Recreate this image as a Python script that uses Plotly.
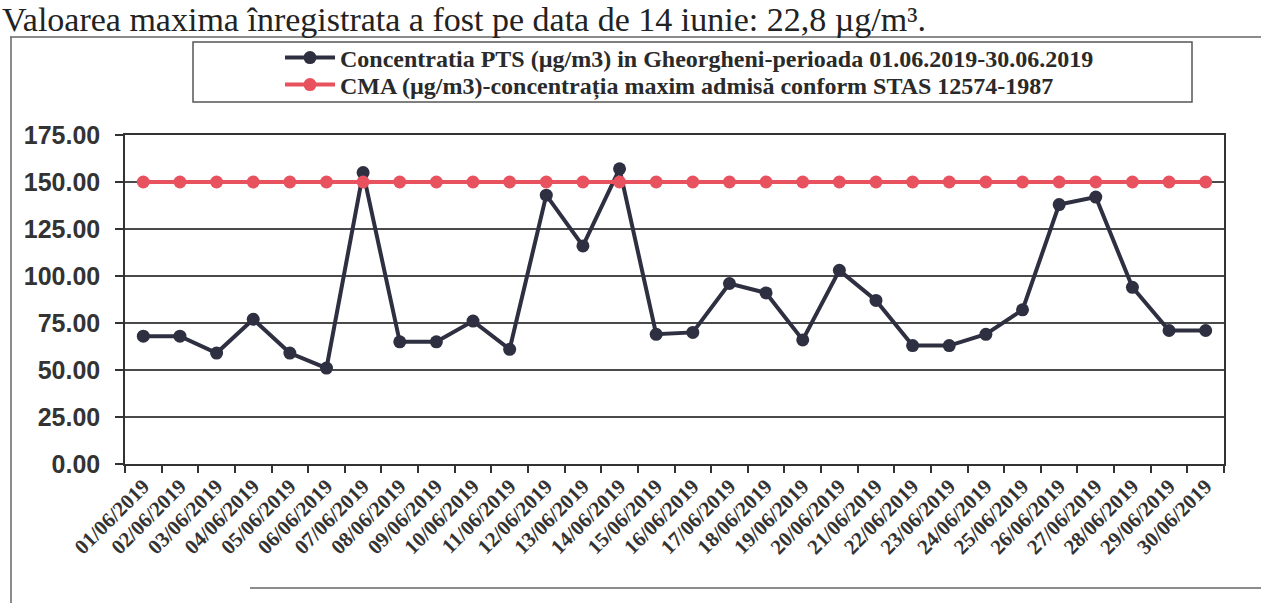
import plotly.graph_objects as go

# ---- data ----
dates = [f"{d:02d}/06/2019" for d in range(1, 31)]
pts_values = [68, 68, 59, 77, 59, 51, 155, 65, 65, 76, 61, 143, 116, 157, 69,
              70, 96, 91, 66, 103, 87, 63, 63, 69, 82, 138, 142, 94, 71, 71]
cma_values = [150] * 30
y_ticks = [0, 25, 50, 75, 100, 125, 150, 175]
name_pts = "Concentratia PTS (µg/m3) in Gheorgheni-perioada 01.06.2019-30.06.2019"
name_cma = "CMA (µg/m3)-concentrația maxim admisă conform STAS 12574-1987"
top_text = "Valoarea maxima înregistrata a fost pe data de 14 iunie: 22,8 µg/m³."

# ---- layout geometry (pixels) ----
W, H = 1261, 603
L, R, T, B = 125, 37, 135, 139
PW = W - L - R
PH = H - T - B


def px(x):
    return (x - L) / PW


def py(y):
    return (H - B - y) / PH


fig = go.Figure()
fig.add_trace(go.Scatter(
    x=dates, y=pts_values, name=name_pts, mode="lines+markers",
    line=dict(color="#2e3042", width=4),
    marker=dict(color="#2e3042", size=13, symbol="circle"),
    legend="legend",
))
fig.add_trace(go.Scatter(
    x=dates, y=cma_values, name=name_cma, mode="lines+markers",
    line=dict(color="#e8525f", width=4),
    marker=dict(color="#e8525f", size=13, symbol="circle"),
    legend="legend2",
))

shapes = [
    # legend box
    dict(type="rect", xref="paper", yref="paper",
         x0=px(193), x1=px(1192), y0=py(102), y1=py(42),
         line=dict(color="#555", width=1.5), fillcolor="rgba(0,0,0,0)", layer="below"),
    # outer frame lines (scan page)
    dict(type="line", xref="paper", yref="paper", x0=px(10), x1=px(1261), y0=py(37), y1=py(37),
         line=dict(color="#666", width=1.5)),
    dict(type="line", xref="paper", yref="paper", x0=px(11), x1=px(11), y0=py(37), y1=py(603),
         line=dict(color="#666", width=1.5)),
    dict(type="line", xref="paper", yref="paper", x0=px(250), x1=px(1261), y0=py(588), y1=py(588),
         line=dict(color="#666", width=1.5)),
]

legend_font = dict(family="Liberation Serif", size=24, color="#2a2a2a", weight="bold")
legend_common = dict(xanchor="left", yanchor="middle", font=legend_font,
                     bgcolor="rgba(0,0,0,0)", borderwidth=0, itemwidth=50)

fig.update_layout(
    width=W, height=H,
    margin=dict(l=L, r=R, t=T, b=B, autoexpand=False),
    paper_bgcolor="white", plot_bgcolor="white",
    showlegend=True,
    legend=dict(x=px(280), y=py(58), **legend_common),
    legend2=dict(x=px(280), y=py(85), **legend_common),
    shapes=shapes,
    annotations=[dict(
        text=top_text, xref="paper", yref="paper", x=px(0), y=py(-1),
        xanchor="left", yanchor="top", showarrow=False,
        font=dict(family="Liberation Serif", size=34, color="#222"),
    )],
    xaxis=dict(
        type="category", range=[-0.5, 29.5], automargin=False,
        tickangle=-45, tickson="boundaries", ticks="outside", ticklen=7,
        tickcolor="#333", tickwidth=1.5,
        tickfont=dict(family="Liberation Serif", size=21, color="#333", weight="bold"),
        showline=True, linecolor="#333", linewidth=1.5, mirror=True,
        showgrid=False,
    ),
    yaxis=dict(
        range=[0, 175], tickvals=y_ticks, automargin=False,
        ticktext=[f"{v:.2f}" for v in y_ticks],
        ticks="outside", ticklen=8, tickcolor="#333", tickwidth=1.5,
        ticklabelstandoff=10,
        tickfont=dict(family="Liberation Sans", size=25, color="#333", weight="bold"),
        showline=True, linecolor="#333", linewidth=1.5, mirror=True,
        showgrid=True, gridcolor="#4a4a4a", gridwidth=1.5,
        zeroline=False,
    ),
)

fig.write_html("out.html", config={"displayModeBar": False},
               post_script="document.body.style.margin='0';")
